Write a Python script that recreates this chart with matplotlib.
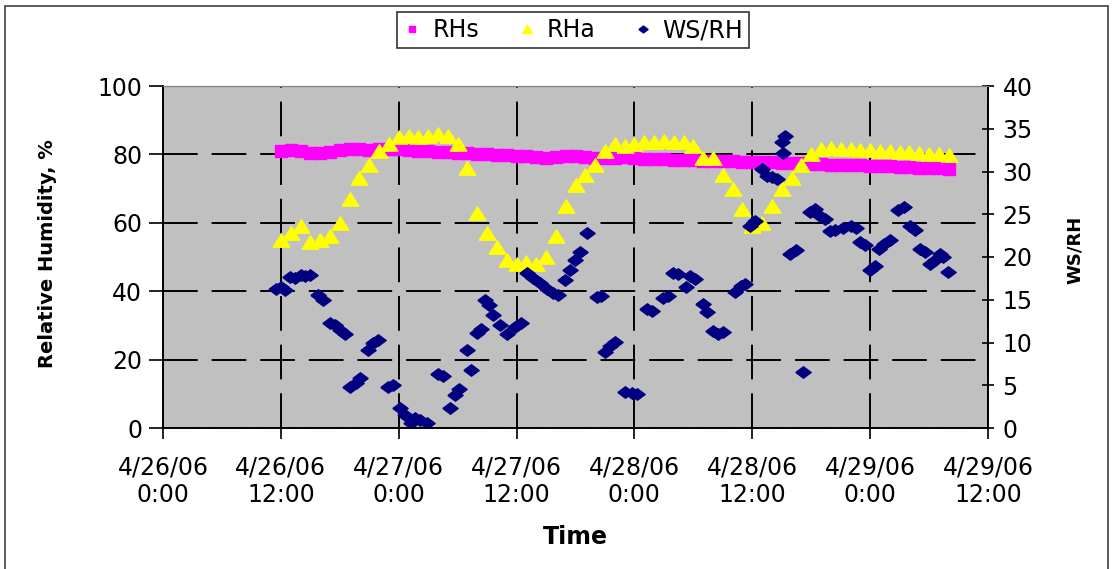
import numpy as np
import pandas as pd
import matplotlib
matplotlib.use("Agg")
import matplotlib.pyplot as plt
import matplotlib.dates as mdates
from matplotlib.patches import Rectangle

plt.rcParams['font.family'] = ['DejaVu Sans']
plt.rcParams['lines.scale_dashes'] = False

START = pd.Timestamp('2006-04-26 00:00')

# hourly readings, hours after 4/26/06 0:00
rh_hours = np.arange(12, 81)

rhs = [81.0, 81.2, 81.0, 80.5, 80.5, 80.8, 81.2, 81.5, 81.5, 81.3,
       81.5, 81.5, 81.5, 81.3, 81.0, 81.0, 80.8, 80.8, 80.5, 80.3,
       80.2, 80.0, 79.8, 79.7, 79.6, 79.5, 79.3, 79.0, 79.3, 79.6,
       79.5, 79.2, 79.0, 79.0, 79.0, 79.2, 79.0, 78.8, 78.8, 78.6,
       78.5, 78.5, 78.3, 78.2, 78.0, 78.0, 78.0, 77.9, 77.8, 77.8,
       77.7, 77.6, 77.5, 77.4, 77.3, 77.2, 77.0, 77.0, 76.8, 76.8,
       76.7, 76.6, 76.5, 76.3, 76.2, 76.0, 76.0, 75.9, 75.8]

rha = [55.0, 57.0, 59.0, 54.5, 55.0, 56.0, 60.0, 67.0, 73.0, 77.0,
       81.0, 83.0, 85.0, 85.5, 85.0, 85.5, 86.0, 85.5, 83.0, 76.0,
       63.0, 57.0, 53.0, 49.0, 48.0, 48.5, 48.0, 50.0, 56.0, 65.0,
       71.0, 74.0, 77.0, 81.0, 83.0, 82.5, 83.0, 83.5, 83.5, 84.0,
       83.5, 83.5, 82.5, 79.0, 79.0, 74.0, 70.0, 64.0, 59.0, 60.0,
       65.0, 70.0, 73.0, 77.0, 80.0, 81.5, 82.0, 81.5, 81.5, 81.3,
       81.2, 81.0, 81.0, 80.8, 80.6, 80.5, 80.2, 80.0, 79.8]

ws_hours = [11.5, 12.0, 12.4, 12.9, 13.4, 14.0, 14.5, 15.0, 15.8, 16.3,
            17.0, 17.5, 18.0, 18.5, 19.0, 19.6, 20.1, 20.9, 21.4, 21.9,
            22.9, 23.4, 24.1, 24.6, 25.2, 25.7, 26.2, 26.9, 28.0, 28.5,
            29.2, 29.7, 30.1, 31.0, 31.4, 32.0, 32.4, 32.8, 33.2, 33.6,
            34.3, 35.0, 35.8, 36.4, 37.1, 37.7, 38.4, 39.1, 39.7, 40.2,
            40.9, 41.4, 41.9, 42.5, 43.2, 44.2, 44.6, 45.0, 45.5, 46.0,
            47.0, 47.8, 48.3, 49.3, 49.8, 50.9, 51.4, 51.9, 52.4, 53.2,
            53.7, 54.2, 55.0, 55.4, 56.0, 56.5, 57.0, 58.2, 58.8, 59.3,
            59.8, 60.3, 61.0, 61.5, 62.0, 62.5, 63.0, 63.3, 63.1, 63.8,
            64.4, 65.2, 65.9, 66.4, 66.9, 67.4, 67.9, 68.4, 69.2, 70.0,
            70.6, 71.0, 71.5, 72.0, 72.5, 72.9, 73.4, 74.0, 74.8, 75.4,
            76.1, 76.6, 77.1, 77.6, 78.1, 78.6, 79.1, 79.4, 79.9]

ws_rh = [16.3, 16.5, 16.1, 17.7, 17.5, 17.9, 17.8, 17.9, 15.5, 15.0,
         12.3, 12.0, 11.5, 11.0, 4.8, 5.3, 5.8, 9.1, 10.0, 10.3,
         4.8, 5.0, 2.3, 1.5, 0.6, 1.2, 0.9, 0.6, 6.3, 6.1,
         2.3, 3.9, 4.6, 9.1, 6.8, 11.1, 11.6, 15.0, 14.4, 13.2,
         12.0, 11.0, 11.8, 12.3, 18.1, 17.5, 17.0, 16.2, 15.8, 15.5,
         17.3, 18.5, 19.6, 20.6, 22.8, 15.3, 15.4, 8.9, 9.6, 10.1,
         4.2, 4.1, 4.0, 13.9, 13.7, 15.2, 15.4, 18.1, 18.0, 16.5,
         17.8, 17.4, 14.5, 13.6, 11.3, 11.0, 11.2, 15.9, 16.6, 16.9,
         23.6, 24.2, 30.3, 29.5, 29.3, 29.1, 33.5, 34.1, 32.2, 20.3,
         20.8, 6.5, 25.3, 25.6, 24.8, 24.5, 23.0, 23.2, 23.4, 23.6,
         23.4, 21.8, 21.4, 18.5, 18.9, 20.9, 21.5, 22.0, 25.5, 25.9,
         23.6, 23.1, 20.9, 20.6, 19.2, 19.6, 20.4, 20.0, 18.2]

rh_time = START + pd.to_timedelta(rh_hours, unit='h')
ws_time = START + pd.to_timedelta(ws_hours, unit='h')

# wide shapes, like the stretched Excel markers
diamond = [(-1, 0), (0, 0.75), (1, 0), (0, -0.75), (-1, 0)]
triangle = [(-1, -0.8), (0, 0.8), (1, -0.8), (-1, -0.8)]

fig = plt.figure(figsize=(11.13, 5.69), dpi=100)
ax = fig.add_axes([163 / 1113, 1 - 428 / 569, 825 / 1113, 342 / 569])
ax.set_facecolor('#c0c0c0')

ax.plot(rh_time, rhs, 's', color='#ff00ff', ms=8, mec='#ff00ff', label='RHs')
ax.plot(rh_time, rha, ls='none', marker=triangle, color='#ffff00', ms=12,
        mec='#ffff00', label='RHa')

ax2 = ax.twinx()
ax2.plot(ws_time, ws_rh, ls='none', marker=diamond, color='#000080', ms=11,
         mec='#000080', label='WS/RH')

ax.set_xlim(START, START + pd.Timedelta(hours=84))
ax.set_ylim(0, 100)
ax2.set_ylim(0, 40)
ax.set_yticks(range(0, 101, 20))
ax2.set_yticks(range(0, 41, 5))

ax.xaxis.set_major_locator(mdates.HourLocator(byhour=[0, 12]))
ax.xaxis.set_major_formatter(mdates.DateFormatter('%-m/%d/%y\n%-H:%M'))

ax.grid(True, color='black', linestyle=(0, (25, 10)), linewidth=1.4)
ax.set_axisbelow(True)

for a in (ax, ax2):
    a.spines['top'].set_color('#808080')
    a.spines['left'].set_linewidth(1.2)
    a.spines['right'].set_linewidth(1.2)
    a.spines['bottom'].set_linewidth(1.2)
ax.tick_params(axis='both', labelsize=17, width=1.2, length=8, direction='out')
ax.tick_params(axis='x', pad=12)
ax.tick_params(axis='y', length=10, pad=5)
ax2.tick_params(axis='y', labelsize=17, width=1.2, length=9, direction='inout', pad=6)
for t in ax.get_xticklabels():
    t.set_linespacing(1.15)

ax.set_xlabel('Time', fontsize=17, fontweight='bold')
ax.set_ylabel('Relative Humidity, %', fontsize=14, fontweight='bold')
ax2.set_ylabel('WS/RH', fontsize=13, fontweight='bold')
ax.xaxis.set_label_coords(0.5, -0.285)
ax.yaxis.set_label_coords(-0.128, 0.51)
ax2.yaxis.set_label_coords(1.094, 0.52)

h1, l1 = ax.get_legend_handles_labels()
h2, l2 = ax2.get_legend_handles_labels()
leg = fig.legend(h1 + h2, l1 + l2, loc='center', bbox_to_anchor=(0.515, 0.947),
                 ncol=3, fontsize=17, frameon=True, fancybox=False,
                 handlelength=0.8, handletextpad=0.45, columnspacing=1.6,
                 markerscale=0.6, borderpad=0.25, borderaxespad=0)
leg.get_frame().set_edgecolor('black')
leg.get_frame().set_linewidth(1.2)

fig.patches.append(Rectangle((5 / 1113, -0.05), 1103 / 1113, 1.05 - 6 / 569,
                             transform=fig.transFigure, fill=False,
                             edgecolor='#404040', linewidth=1.2))

fig.savefig('out.png', dpi=100)
